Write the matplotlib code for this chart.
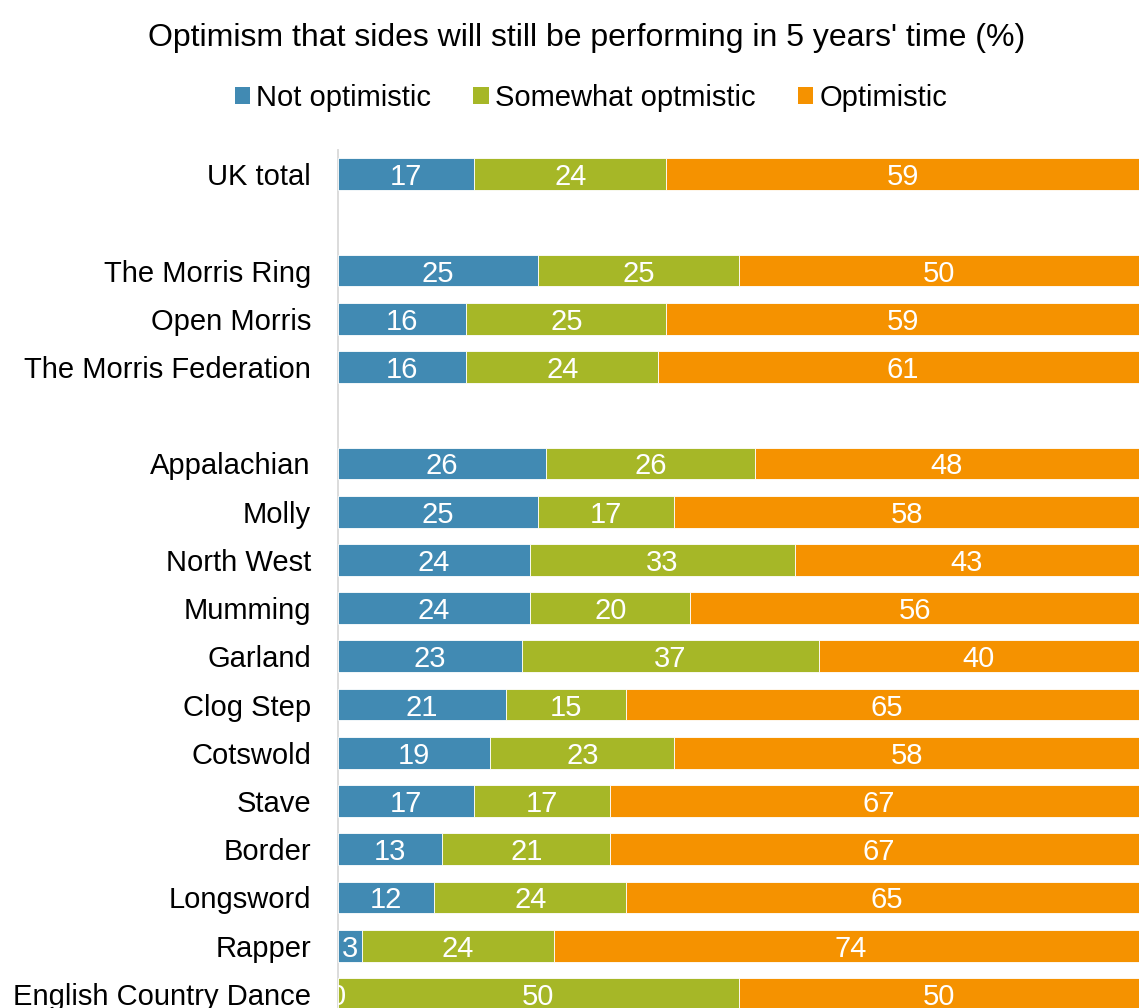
import matplotlib
matplotlib.use("Agg")
import matplotlib.pyplot as plt
from matplotlib.patches import Patch

plt.rcParams['font.family'] = ['Liberation Sans', 'DejaVu Sans']

# groups of sides, a blank row is left between groups
groups = [
    ["UK total"],
    ["The Morris Ring", "Open Morris", "The Morris Federation"],
    ["Appalachian", "Molly", "North West", "Mumming", "Garland", "Clog Step",
     "Cotswold", "Stave", "Border", "Longsword", "Rapper", "English Country Dance"],
]
not_optimistic = [17, 25, 16, 16, 26, 25, 24, 24, 23, 21, 19, 17, 13, 12, 3, 0]
somewhat = [24, 25, 25, 24, 26, 17, 33, 20, 37, 15, 23, 17, 21, 24, 24, 50]
optimistic = [59, 50, 59, 61, 48, 58, 43, 56, 40, 65, 58, 67, 67, 65, 74, 50]

series_names = ["Not optimistic", "Somewhat optmistic", "Optimistic"]
colors = ["#418AB3", "#A6B727", "#F59200"]

labels = []
ypos = []
row = 0
for g in groups:
    for name in g:
        labels.append(name)
        ypos.append(row)
        row += 1
    row += 1
n_rows = row - 1

fig = plt.figure(figsize=(11.39, 10.08), dpi=100)
left_px, top_px, bottom_px = 338, 150, 1018
ax = fig.add_axes([left_px / 1139, 1 - bottom_px / 1008,
                   1 - left_px / 1139, (bottom_px - top_px) / 1008])

left = [0] * len(labels)
for vals, col in zip([not_optimistic, somewhat, optimistic], colors):
    ax.barh(ypos, vals, left=left, height=0.66, color=col,
            edgecolor="white", linewidth=0.6, zorder=2)
    for y, v, l in zip(ypos, vals, left):
        ax.text(l + v / 2, y, str(v), ha="center", va="center_baseline",
                color="white", fontsize=21, clip_on=True, zorder=3)
    left = [a + b for a, b in zip(left, vals)]

ax.set_xlim(0, 100)
ax.set_ylim(n_rows - 0.5, -0.5)
ax.set_yticks(ypos)
ax.set_yticklabels(labels, fontsize=21, color="black")
ax.tick_params(axis="y", length=0, pad=19.5)
ax.xaxis.set_visible(False)
for s in ["top", "right", "bottom"]:
    ax.spines[s].set_visible(False)
ax.spines["left"].set_color("#D9D9D9")
ax.spines["left"].set_linewidth(1.3)
ax.spines["left"].set_zorder(1)

fig.text(0.515, 1 - 38 / 1008,
         "Optimism that sides will still be performing in 5 years' time (%)",
         ha="center", va="center", fontsize=23, color="black")

handles = [Patch(facecolor=c, edgecolor="none") for c in colors]
fig.legend(handles, series_names, loc="center", ncol=3,
           bbox_to_anchor=(591 / 1139, 1 - 98 / 1008), frameon=False,
           fontsize=21, handlelength=0.52, handleheight=0.52,
           handletextpad=0.22, columnspacing=1.45, borderpad=0, borderaxespad=0)

fig.savefig("out.png", dpi=100)
